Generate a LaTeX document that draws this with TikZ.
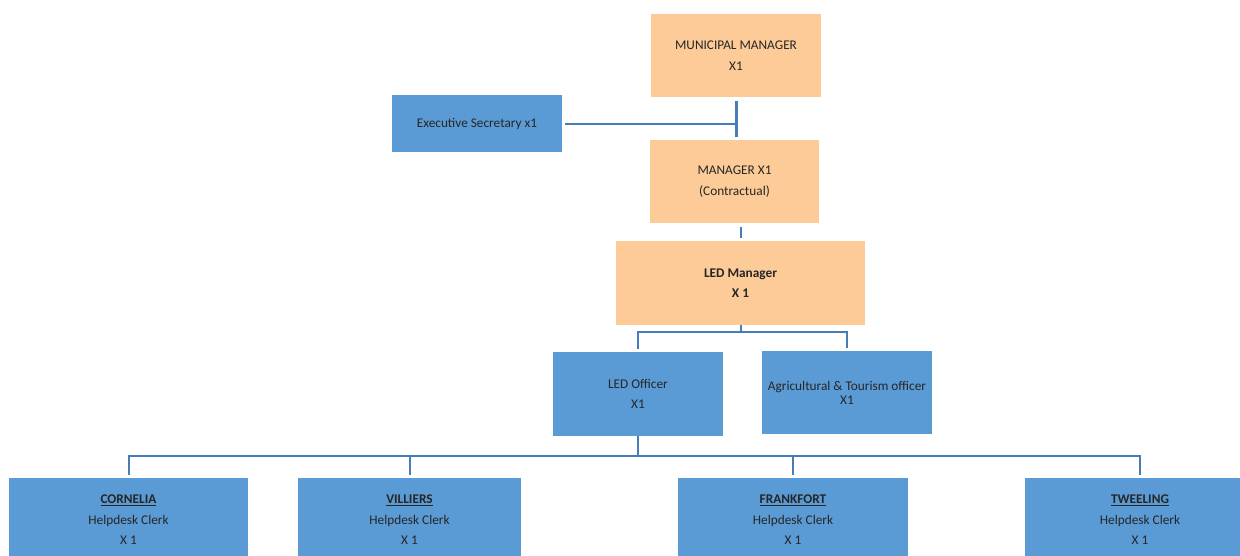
\documentclass[tikz,border=0pt]{standalone}
\usepackage{fontspec}
\setmainfont{Carlito}
\definecolor{peach}{RGB}{252,203,152}
\definecolor{boxblue}{RGB}{91,155,213}
\definecolor{linkblue}{RGB}{70,125,185}
\begin{document}
\begin{tikzpicture}[x=1pt,y=-1pt,
  base/.style={rectangle, inner sep=0pt, align=center, font=\fontsize{13.3}{20.5}\selectfont, text=black!85},
  orangebox/.style={base, fill=peach},
  bluebox/.style={base, fill=boxblue},
  conn/.style={draw=linkblue, line width=2pt}]
\useasboundingbox (0,0) rectangle (1240,555);
\clip (0,0) rectangle (1240,555);
\node[orangebox, minimum width=170pt, minimum height=83pt] (mm) at (736,55.5) {MUNICIPAL MANAGER\\X1};
\node[bluebox, minimum width=170pt, minimum height=57pt] (es) at (477,123.5) {Executive Secretary x1};
\node[orangebox, minimum width=169pt, minimum height=83pt] (mgr) at (734.5,181.5) {MANAGER X1\\(Contractual)};
\node[orangebox, minimum width=249pt, minimum height=84pt, font=\fontsize{13.3}{20.5}\selectfont\bfseries] (led) at (740.5,283) {LED Manager\\X 1};
\node[bluebox, minimum width=170pt, minimum height=84pt] (off) at (638,394) {LED Officer\\X1};
\node[bluebox, minimum width=170pt, minimum height=83pt, font=\fontsize{13.3}{14}\selectfont] (agr) at (847,392.5) {Agricultural \& Tourism officer\\X1};
\node[bluebox, minimum width=239pt, minimum height=84pt] (cor) at (128.5,520) {\textbf{\underline{CORNELIA}}\\Helpdesk Clerk\\X 1};
\node[bluebox, minimum width=223pt, minimum height=84pt] (vil) at (409.5,520) {\textbf{\underline{VILLIERS}}\\Helpdesk Clerk\\X 1};
\node[bluebox, minimum width=230pt, minimum height=84pt] (fra) at (793,520) {\textbf{\underline{FRANKFORT}}\\Helpdesk Clerk\\X 1};
\node[bluebox, minimum width=230pt, minimum height=84pt] (twe) at (1140,520) {\textbf{\underline{TWEELING}}\\Helpdesk Clerk\\X 1};
% connectors
\draw[conn, line width=3pt] ([yshift=-4pt]mm.south) -- ([yshift=3pt]mgr.north -| mm.south);
\draw[conn] ([xshift=3pt]es.east) -- (es.east -| mm.south);
\draw[conn] ([yshift=-4pt]mgr.south -| led.north) -- ([yshift=3pt]led.north);
\coordinate (j1) at ([yshift=-7pt]led.south);
\draw[conn, shorten >=3pt] (led.south) -- (j1) -| (off.north);
\draw[conn, shorten >=3pt] (j1) -| (agr.north);
\coordinate (j2) at ([yshift=-20pt]off.south);
\draw[conn] (off.south) -- (j2);
\draw[conn, shorten >=3pt] (j2) -| (cor.north);
\draw[conn, shorten >=3pt] (j2) -| (vil.north);
\draw[conn, shorten >=3pt] (j2) -| (fra.north);
\draw[conn, shorten >=3pt] (j2) -| (twe.north);
\end{tikzpicture}
\end{document}
